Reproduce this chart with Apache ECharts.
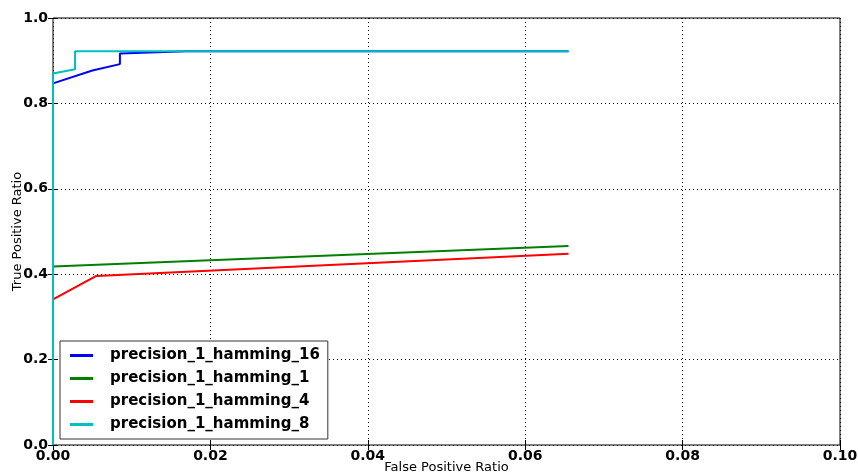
<!DOCTYPE html>
<html><head><meta charset="utf-8">
<script src="https://cdn.jsdelivr.net/npm/echarts@6/dist/echarts.min.js"></script>
<style>html,body{margin:0;padding:0;background:#fff}#c{width:858px;height:475px}</style>
</head><body><div id="c"></div>
<script>
const seriesNames = ['precision_1_hamming_16','precision_1_hamming_1','precision_1_hamming_4','precision_1_hamming_8'];
const colors = ['#0000ff','#008000','#ff0000','#00bfbf'];
const fpr16 = [0, 0, 0.005, 0.0085, 0.0085, 0.017, 0.0655];
const tpr16 = [0, 0.847, 0.877, 0.892, 0.917, 0.922, 0.922];
const fpr1 = [0, 0, 0.0655];
const tpr1 = [0, 0.418, 0.466];
const fpr4 = [0, 0, 0.0055, 0.0655];
const tpr4 = [0, 0.341, 0.396, 0.448];
const fpr8 = [0, 0, 0.0028, 0.0028, 0.0655];
const tpr8 = [0, 0.870, 0.880, 0.922, 0.922];
const xTicks = [0, 0.02, 0.04, 0.06, 0.08, 0.10];
const yTicks = [0, 0.2, 0.4, 0.6, 0.8, 1.0];
const xs = [fpr16, fpr1, fpr4, fpr8];
const ys = [tpr16, tpr1, tpr4, tpr8];

const chart = echarts.init(document.getElementById('c'), null, {renderer:'canvas'});
const tickFont = {fontFamily:'DejaVu Sans', fontWeight:'bold', fontSize:14, color:'#000'};
const grid = {left:53, right:18, top:18, bottom:30, show:true, borderColor:'#000', borderWidth:1, backgroundColor:'transparent', containLabel:false, outerBoundsMode:'none'};
function xAx(pos, labels){
  return {type:'value', position:pos, min:0, max:0.1, interval:0.02,
    name: labels ? 'False Positive Ratio' : '', nameLocation:'middle', nameGap:16, nameMoveOverlap:false,
    nameTextStyle:{fontFamily:'DejaVu Sans', fontSize:13, color:'#000'},
    axisLine:{show:false}, axisTick:{show:true, inside:true, length:5, lineStyle:{color:'#000'}},
    axisLabel:{show:labels, ...tickFont, margin:4, formatter:v=>v.toFixed(2)},
    splitLine:{show:labels, lineStyle:{color:'#000', type:[1,3], width:1}}};
}
function yAx(pos, labels){
  return {type:'value', position:pos, min:0, max:1, interval:0.2,
    name: labels ? 'True Positive Ratio' : '', nameLocation:'middle', nameGap:29, nameMoveOverlap:false,
    nameTextStyle:{fontFamily:'DejaVu Sans', fontSize:13, color:'#000'},
    axisLine:{show:false}, axisTick:{show:true, inside:true, length:5, lineStyle:{color:'#000'}},
    axisLabel:{show:labels, ...tickFont, margin:5, formatter:v=>v.toFixed(1)},
    splitLine:{show:labels, lineStyle:{color:'#000', type:[1,3], width:1}}};
}
chart.setOption({
  animation:false,
  backgroundColor:'#fff',
  grid: grid,
  xAxis:[xAx('bottom', true), xAx('top', false)],
  yAxis:[yAx('left', true), yAx('right', false)],
  legend:{
    orient:'vertical', left:60, top:341,
    padding:[7, 8, 7, 10],
    borderColor:'#333', borderWidth:1, backgroundColor:'#fff',
    itemWidth:23, itemHeight:3, itemGap:8,
    icon:'rect',
    textStyle:{fontFamily:'DejaVu Sans', fontWeight:'bold', fontSize:15, color:'#000', padding:[0,0,0,12]},
    data: seriesNames
  },
  series: seriesNames.map((n,i)=>({
    name:n, type:'line', xAxisIndex:0, yAxisIndex:0,
    data: xs[i].map((x,j)=>[x, ys[i][j]]),
    symbol:'none', lineStyle:{width:2, color:colors[i]}, itemStyle:{color:colors[i]},
    clip:true
  }))
});
</script></body></html>
